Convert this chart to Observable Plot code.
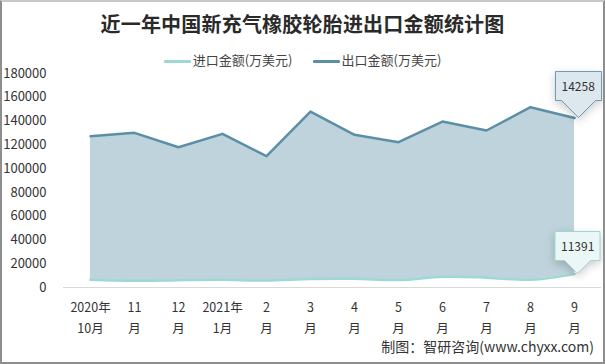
<!DOCTYPE html>
<html><head><meta charset="utf-8">
<script src="https://cdn.jsdelivr.net/npm/d3@7"></script>
<script src="https://cdn.jsdelivr.net/npm/@observablehq/plot@0.6"></script>
<style>
html,body{margin:0;padding:0;background:#fff;}
#wrap{position:relative;width:605px;height:364px;box-sizing:border-box;border:2px solid #8e8e8e;border-top-color:#c8c8c8;overflow:hidden;font-family:"Noto Sans CJK SC","Noto Sans",sans-serif;}
#title{position:absolute;left:-2px;top:7px;width:605px;text-align:center;font-size:20px;font-weight:bold;color:#2a2a2a;font-family:"Noto Sans CJK SC",serif;letter-spacing:0.2px;}
#legend{position:absolute;left:-2px;top:48px;width:605px;text-align:center;font-size:13px;color:#444;}
#legend span{display:inline-block;margin:0 10px;}
#legend i{display:inline-block;width:27px;height:3px;vertical-align:middle;margin-right:2px;border-radius:1px;}
#chart{position:absolute;left:-2px;top:-2px;width:605px;height:340px;}
#chart svg{max-width:none;}
#wm{position:absolute;left:230px;top:159px;color:#9fa9b1;opacity:0.75;}
#wm .big{font-size:23px;letter-spacing:4px;padding-left:31px;line-height:28px;}
#wm .small{font-size:11px;letter-spacing:6px;line-height:13px;margin-top:3px;}
#wm .logo{position:absolute;left:0;top:4px;width:22px;height:22px;}
#caption{position:absolute;right:9px;bottom:6px;font-size:14px;color:#333;}
</style></head>
<body><div id="wrap">
<div id="wm"><svg class="logo" viewBox="0 0 22 22"><rect x="0" y="0" width="10" height="5" fill="#8fa5c4"/><rect x="5" y="5" width="5" height="6" fill="#8fa5c4"/><rect x="0" y="11" width="10" height="5" fill="#8fa5c4"/><rect x="0" y="16" width="5" height="6" fill="#8fa5c4"/><rect x="12" y="0" width="5" height="16" fill="#a9c6dc"/><rect x="12" y="17" width="10" height="5" fill="#a9c6dc"/></svg><div class="big">智研咨询</div><div class="small">www.chyxx.com</div></div>
<div id="chart"></div>
<div id="title">近一年中国新充气橡胶轮胎进出口金额统计图</div>
<div id="legend"><span><i style="background:#9ed8d4"></i>进口金额(万美元)</span><span><i style="background:#5b8fa6"></i>出口金额(万美元)</span></div>
<div id="caption">制图：智研咨询(www.chyxx.com)</div>
</div>
<script>
const months = ["2020年\n10月","11\n月","12\n月","2021年\n1月","2\n月","3\n月","4\n月","5\n月","6\n月","7\n月","8\n月","9\n月"];
const importVals = [6500, 5600, 6200, 6500, 5800, 7200, 7300, 6300, 9000, 8300, 6500, 11391];
const exportVals = [127250, 130100, 118000, 129260, 110420, 148020, 128420, 122200, 139600, 132040, 151640, 142580];
const yTicks = [0,20000,40000,60000,80000,100000,120000,140000,160000,180000];
const lastLabels = {export: "14258", import: "11391"};

const data = months.map((m,i)=>({m, imp: importVals[i], exp: exportVals[i]}));
const last = data[data.length-1];

const plot = Plot.plot({
  width: 605, height: 340,
  marginLeft: 63, marginRight: 4, marginTop: 73, marginBottom: 53,
  style: {fontFamily: '"Noto Sans CJK SC","Noto Sans",sans-serif', fontSize: "13px", color: "#333", background: "transparent"},
  x: {type: "point", domain: months, range: [86, 578], padding: 0, label: null},
  y: {domain: [0, 180000], ticks: yTicks, label: null},
  marks: [
    Plot.axisY({ticks: yTicks, tickSize: 0, tickPadding: 17, tickFormat: d=>String(d), fontSize: 13, label: null}),
    Plot.axisX({tickSize: 0, tickPadding: 10, fontSize: 12.5, lineHeight: 1.65, label: null}),
    Plot.ruleY([0], {stroke: "#d9d9d9", strokeWidth: 1.2}),
    Plot.areaY(data, {x: "m", y1: "imp", y2: "exp", fill: "#bed3dc", curve: "linear"}),
    Plot.line(data, {x: "m", y: "exp", stroke: "#5b8fa6", strokeWidth: 2.5, curve: "linear"}),
    Plot.line(data, {x: "m", y: "imp", stroke: "#9ed8d4", strokeWidth: 2.5, curve: "catmull-rom"}),
    Plot.tip([last], {x: "m", y: "exp", title: () => lastLabels.export, anchor: "bottom", pointerSize: 34, fill: "#dde8ee", stroke: "#6f9cb0", fontSize: 12, textPadding: 6, dx: 4}),
    Plot.tip([last], {x: "m", y: "imp", title: () => lastLabels.import, anchor: "bottom", pointerSize: 26, fill: "#eaf7f6", stroke: "#9ed8d4", fontSize: 12, textPadding: 6, dx: 3})
  ]
});
document.getElementById("chart").appendChild(plot);
</script>
</body></html>
